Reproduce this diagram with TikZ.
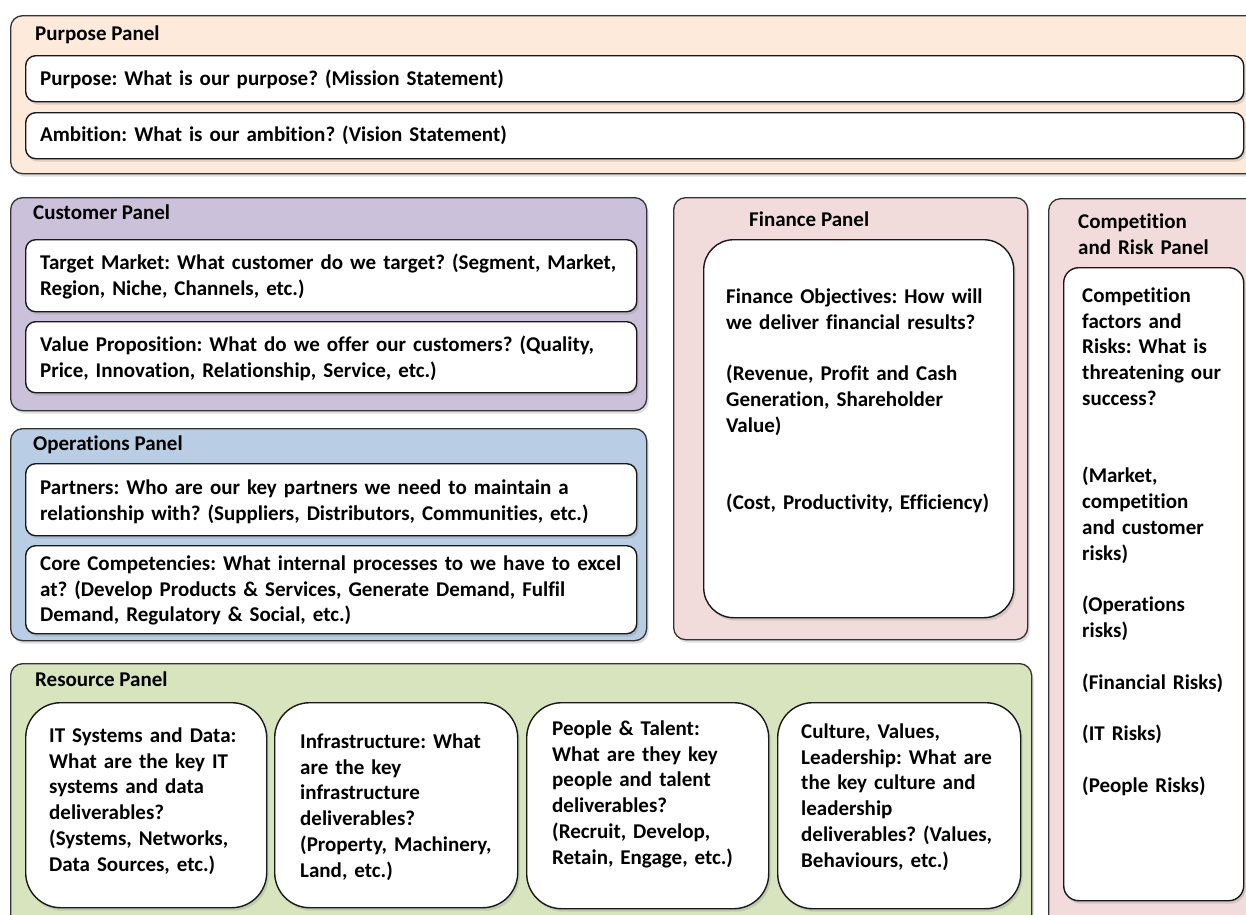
\documentclass[tikz,border=0pt]{standalone}
\usepackage{fontspec}
\setmainfont{Carlito}[Ligatures=NoCommon]
\usetikzlibrary{shadows}
\definecolor{purposefill}{HTML}{FDEADA}
\definecolor{customerfill}{HTML}{CCC1DA}
\definecolor{opsfill}{HTML}{B9CDE5}
\definecolor{financefill}{HTML}{F2DCDB}
\definecolor{resourcefill}{HTML}{D7E4BD}
\newcommand{\paneltxt}{\bfseries\fontsize{21}{25.8}\selectfont\frenchspacing}
\tikzset{
  softshadow/.style = {drop shadow={shadow xshift=2pt,shadow yshift=-3pt,opacity=.25}},
  panelbox/.style   = {draw=black!80,line width=1.3pt,rounded corners=12pt,anchor=north west,inner sep=0pt,softshadow},
  cardbox/.style    = {draw=black!90,line width=1.4pt,fill=white,anchor=north west,inner sep=0pt,softshadow},
  paneltitle/.style = {anchor=base west,inner sep=0pt,font=\paneltxt},
  cardtext/.style   = {anchor=north west,inner sep=0pt,yshift=18.06pt,align=left,font=\paneltxt,
                       execute at begin node=\strut}
}
% name, x, y, width, height, fill
\newcommand{\mkpanel}[6]{%
  \node[panelbox,fill=#6,minimum width=#4,minimum height=#5] (#1) at (#2,#3) {};
}
% name, x, y, width, height, corner radius
\newcommand{\mkcard}[6]{%
  \node[cardbox,rounded corners=#6,minimum width=#4,minimum height=#5] (#1) at (#2,#3) {};
}

\begin{document}
\begin{tikzpicture}[x=1pt,y=-1pt]
  \useasboundingbox (0,0) rectangle (1246,914);
  \fill[white] (0,0) rectangle (1246,914);
  \clip (0,0) rectangle (1246,914);

  % purpose
  \mkpanel{purpose}{10}{15}{1260}{158}{purposefill}
  \node[paneltitle] (purpose-t) at (35,40) {Purpose Panel};
  \mkcard{mission}{25}{55}{1218}{46}{10pt}
  \mkcard{vision}{25}{112}{1218}{46}{10pt}
  \node[cardtext,text width=1150] (mission-t) at (40,85) {Purpose: What is our purpose? (Mission Statement)};
  \node[cardtext,text width=1150] (vision-t) at (40,141) {Ambition: What is our ambition? (Vision Statement)};

  % customer
  \mkpanel{customer}{10}{197}{636}{213}{customerfill}
  \node[paneltitle] (customer-t) at (33,219) {Customer Panel};
  \mkcard{target}{25}{239}{611}{72}{10pt}
  \mkcard{valueprop}{25}{321}{611}{71}{10pt}
  \node[cardtext,text width=640] (target-t) at (40,269)
    {Target Market: What customer do we target? (Segment, Market,\\ Region, Niche, Channels, etc.)};
  \node[cardtext,text width=640] (valueprop-t) at (40,351)
    {Value Proposition: What do we offer our customers? (Quality,\\ Price, Innovation, Relationship, Service, etc.)};

  % operations
  \mkpanel{operations}{10}{428}{636}{212}{opsfill}
  \node[paneltitle] (operations-t) at (33,450) {Operations Panel};
  \mkcard{partners}{25}{463}{611}{72}{10pt}
  \mkcard{core}{25}{545}{611}{88}{10pt}
  \node[cardtext,text width=640] (partners-t) at (40,494)
    {Partners: Who are our key partners we need to maintain a\\ relationship with? (Suppliers, Distributors, Communities, etc.)};
  \node[cardtext,text width=640] (core-t) at (40,570)
    {Core Competencies: What internal processes to we have to excel\\ at? (Develop Products \& Services, Generate Demand, Fulfil\\ Demand, Regulatory \& Social, etc.)};

  % finance
  \mkpanel{finance}{673}{197}{354}{442}{financefill}
  \node[paneltitle] (finance-t) at (749,226) {Finance Panel};
  \mkcard{finobj}{703}{239}{310}{378}{30pt}
  \node[cardtext,text width=340] (finobj-t) at (726,303)
    {Finance Objectives: How will\\ we deliver financial results?\\[25.8pt]
     (Revenue, Profit and Cash\\ Generation, Shareholder\\ Value)\\[51.6pt]
     (Cost, Productivity, Efficiency)};

  % competition and risk
  \mkpanel{comprisk}{1048}{198}{230}{740}{financefill}
  \node[cardtext,text width=200] (comprisk-t) at (1078,228) {Competition\\ and Risk Panel};
  \mkcard{risks}{1063}{267}{180}{633}{15pt}
  \node[cardtext,text width=200] (risks-t) at (1082,302)
    {Competition\\ factors and\\ Risks: What is\\ threatening our\\ success?\\[51.6pt]
     (Market,\\ competition\\ and customer\\ risks)\\[25.8pt]
     (Operations\\ risks)\\[25.8pt]
     (Financial Risks)\\[25.8pt]
     (IT Risks)\\[25.8pt]
     (People Risks)};

  % resource
  \mkpanel{resource}{10}{663}{1021}{280}{resourcefill}
  \node[paneltitle] (resource-t) at (35,686) {Resource Panel};
  \mkcard{itdata}{25}{702}{241}{205}{35pt}
  \mkcard{infra}{274}{702}{243}{205}{35pt}
  \mkcard{people}{526}{702}{242}{206}{35pt}
  \mkcard{culture}{777}{702}{243}{206}{35pt}
  \node[cardtext,text width=260] (itdata-t) at (49,742)
    {IT Systems and Data:\\ What are the key IT\\ systems and data\\ deliverables?\\ (Systems, Networks,\\ Data Sources, etc.)};
  \node[cardtext,text width=260] (infra-t) at (300,748)
    {Infrastructure: What\\ are the key\\ infrastructure\\ deliverables?\\ (Property, Machinery,\\ Land, etc.)};
  \node[cardtext,text width=260] (people-t) at (552,735)
    {People \& Talent:\\ What are they key\\ people and talent\\ deliverables?\\ (Recruit, Develop,\\ Retain, Engage, etc.)};
  \node[cardtext,text width=260] (culture-t) at (801,738)
    {Culture, Values,\\ Leadership: What are\\ the key culture and\\ leadership\\ deliverables? (Values,\\ Behaviours, etc.)};
\end{tikzpicture}
\end{document}
